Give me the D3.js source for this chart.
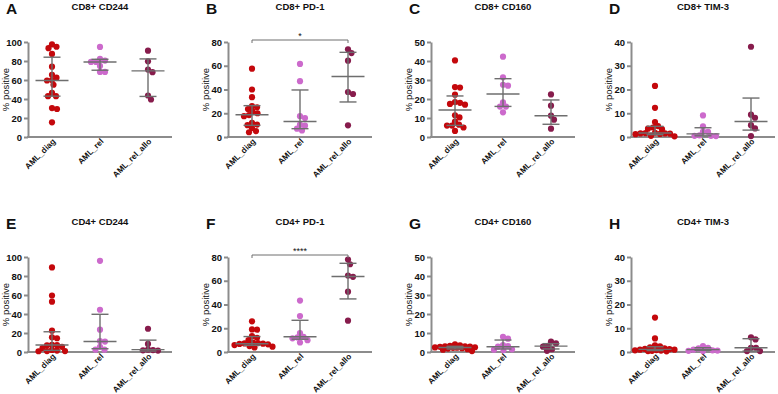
<!DOCTYPE html>
<html>
<head>
<meta charset="utf-8">
<script src="https://cdn.jsdelivr.net/npm/d3@7"></script>
<style>
  body { margin: 0; background: #fff; }
  text { font-family: "Liberation Sans", Arial, sans-serif; }
</style>
</head>
<body>
<div id="chart"></div>
<script>
// groups and panel labels
const categories = ["AML_diag", "AML_rel", "AML_rel_allo"];
const letters = ["A", "B", "C", "D", "E", "F", "G", "H"];
const titles = ["CD8+ CD244", "CD8+ PD-1", "CD8+ CD160", "CD8+ TIM-3",
                "CD4+ CD244", "CD4+ PD-1", "CD4+ CD160", "CD4+ TIM-3"];
const yMax = [100, 80, 50, 40, 100, 80, 50, 40];
const yStep = [20, 20, 10, 10, 20, 20, 10, 10];
const signif = [null, "*", null, null, null, "****", null, null];

// % positive per patient, [diag, rel, rel_allo]
const cd8_cd244 = [
  [97.5, 95, 93.5, 87.5, 74, 65.5, 62.5, 60, 59.5, 55, 46.5, 43, 43, 30.5, 29.5, 15.5],
  [94.8, 82.2, 80.4, 79, 79, 74.8, 68.5, 68.5],
  [90.9, 79.7, 71, 68.2, 43.7, 39.5]
];
const cd8_pd1 = [
  [57.5, 40, 33.5, 26, 25, 23.5, 21.5, 20, 18.5, 17.5, 12, 10.5, 10, 7.5, 5, 4],
  [61.5, 47, 17.5, 16, 10.5, 9.5, 7, 5.5],
  [73.8, 70.7, 64.3, 37.9, 36.2, 9.8]
];
const cd8_cd160 = [
  [40.3, 26.3, 26, 22.3, 18.4, 18, 17.4, 17, 11.4, 10.3, 8.1, 6.5, 6, 6, 5, 3.2],
  [42.3, 31.4, 27.5, 27, 18.2, 16, 16, 13],
  [22.4, 16.5, 11.2, 9.1, 4.4]
];
const cd8_tim3 = [
  [21.5, 12.3, 6.3, 4.6, 4, 3.5, 3.3, 1.8, 1.6, 1.5, 1.5, 1.4, 1.3, 1.2, 0.5, 0.3],
  [9.1, 4.5, 2.3, 2.2, 0.7, 0.5, 0.5, 0.4],
  [38, 9.4, 8.1, 5, 3.6, 0.4]
];
const cd4_cd244 = [
  [89, 59.5, 53, 22.5, 15.5, 14.5, 7.5, 7.2, 7, 5.5, 4, 2.2, 1.5, 1, 1, 0.8],
  [96, 44.5, 23.5, 11.5, 11, 5.5, 2.5, 2.5],
  [24.5, 8.5, 2.5, 2, 1.8, 1.5]
];
const cd4_pd1 = [
  [25.8, 19, 18.8, 13.3, 12, 10, 8, 7.5, 7.2, 7, 6.8, 6.5, 5.8, 5, 4.5, 3.8],
  [43.3, 30.3, 16, 12.8, 12.3, 11.5, 10, 8],
  [77.8, 73.9, 64.4, 63.3, 50.8, 26.4]
];
const cd4_cd160 = [
  [4, 3.5, 3.3, 3, 3, 2.8, 2.7, 2.5, 2.4, 2.3, 2.2, 2, 1.8, 1.5, 1.2, 0.5],
  [8, 7, 3.6, 3.1, 2.8, 1.4, 1.2, 1],
  [5.5, 4.5, 3.3, 2.8, 1.5, 0.6]
];
const cd4_tim3 = [
  [14.5, 5.7, 2.8, 2.4, 2, 1.5, 1.3, 1.2, 1, 1, 0.8, 0.7, 0.6, 0.5, 0.4, 0.3],
  [2.5, 1.8, 1.5, 1, 0.7, 0.6, 0.5, 0.4],
  [6.2, 5.3, 1.8, 1.8, 0.4, 0.4]
];

// [median, q1, q3] as drawn, per group
const cd8_cd244_bars = [[59.5, 43, 84], [79, 70.3, 81.8], [69.6, 42.7, 82.2]];
const cd8_pd1_bars   = [[18.8, 9.8, 26.4], [13, 7, 39.6], [51, 29.5, 71.3]];
const cd8_cd160_bars = [[14.2, 6.1, 21.6], [22.6, 16.1, 30.7], [11.2, 6.7, 19.5]];
const cd8_tim3_bars  = [[1.7, 1, 4.5], [1.3, 0.5, 3.9], [6.5, 2.9, 16.4]];
const cd4_cd244_bars = [[7.3, 1.7, 21.3], [11.1, 3.5, 39.7], [2.5, 1, 12.5]];
const cd4_pd1_bars   = [[6.9, 5.6, 13], [12.8, 10.8, 26.7], [63.6, 44.7, 74.7]];
const cd4_cd160_bars = [[2.4, 1.6, 3], [2.8, 1.6, 6.3], [3.1, 1.6, 4.4]];
const cd4_tim3_bars  = [[1.1, 0.6, 2.2], [1, 0.7, 1.8], [1.8, 0.4, 5.6]];

const panelData = [cd8_cd244, cd8_pd1, cd8_cd160, cd8_tim3, cd4_cd244, cd4_pd1, cd4_cd160, cd4_tim3];
const panelBars = [cd8_cd244_bars, cd8_pd1_bars, cd8_cd160_bars, cd8_tim3_bars,
                   cd4_cd244_bars, cd4_pd1_bars, cd4_cd160_bars, cd4_tim3_bars];

const colors = ["#c4080c", "#cc6acc", "#871c4c"];

const width = 778, height = 394;
const colX = [28, 228, 431, 631],
      rowY = [137, 352],
      plotW = 144, plotH = 95,
      r = 3.1;

const svg = d3.select("#chart")
  .append("svg")
    .attr("width", width)
    .attr("height", height);

// simple beeswarm: nudge dots sideways, dots may overlap a bit and
// the spread is capped like Prism does
function swarm(vals, y) {
  const minD = 1.6 * r, maxW = 21;
  const order = d3.range(vals.length).sort((a, b) => d3.descending(vals[a], vals[b]));
  const placed = [], out = [];
  order.forEach(i => {
    const py = y(vals[i]);
    let best = null, bestD = -1;
    for (let k = 0; k <= maxW * 4; k++) {
      const dx = (k % 2 ? 1 : -1) * Math.ceil(k / 2) * 0.5;
      const dmin = placed.length
        ? d3.min(placed, p => Math.hypot(p.x - dx, p.y - py))
        : Infinity;
      if (dmin >= minD) { best = dx; break; }
      if (dmin > bestD) { bestD = dmin; best = dx; }
    }
    placed.push({x: best, y: py});
    out[i] = {dx: best, v: vals[i]};
  });
  return out;
}

panelData.forEach((groups, p) => {
  const x0 = colX[p % 4], y0 = rowY[Math.floor(p / 4)];

  const g = svg.append("g").attr("transform", `translate(${x0},${y0 - plotH})`);

  const xScale = d3.scalePoint()
    .domain(categories)
    .range([0, plotW])
    .padding(0.5);

  const yScale = d3.scaleLinear()
    .domain([0, yMax[p]])
    .range([plotH, 0]);

  // y axis
  const yAxis = g.append("g")
    .call(d3.axisLeft(yScale)
      .tickValues(d3.range(0, yMax[p] + 0.1, yStep[p]))
      .tickSize(4)
      .tickSizeOuter(0)
      .tickPadding(2));
  yAxis.select(".domain").attr("stroke", "#8c8c8c").attr("stroke-width", 2);
  yAxis.selectAll(".tick line").attr("stroke", "#8c8c8c").attr("stroke-width", 2);
  yAxis.selectAll(".tick text")
    .attr("fill", "#111")
    .style("font-size", "9.5px")
    .style("font-weight", "bold");

  // x axis
  const xAxis = g.append("g")
    .attr("transform", `translate(0,${plotH})`)
    .call(d3.axisBottom(xScale).tickSize(0).tickSizeOuter(0).tickFormat(""));
  xAxis.select(".domain")
    .attr("d", `M-1,0H${plotW}`)
    .attr("stroke", "#8c8c8c").attr("stroke-width", 2);

  g.selectAll(".xlabel")
    .data(categories)
    .enter()
    .append("text")
      .attr("class", "xlabel")
      .attr("transform", d => `translate(${xScale(d) + 4},${plotH + 5}) rotate(-45)`)
      .attr("text-anchor", "end")
      .style("font-size", "8.2px")
      .style("font-weight", "bold")
      .attr("fill", "#111")
      .text(d => d);

  // y label
  g.append("text")
    .attr("transform", `translate(${-19},${plotH / 2}) rotate(-90)`)
    .attr("text-anchor", "middle")
    .style("font-size", "9.5px")
    .attr("fill", "#111")
    .text("% positive");

  // title and panel letter
  g.append("text")
    .attr("x", plotW / 2)
    .attr("y", -(127 - plotH))
    .attr("text-anchor", "middle")
    .style("font-size", "9.5px")
    .style("font-weight", "bold")
    .attr("fill", "#111")
    .text(titles[p]);

  g.append("text")
    .attr("x", -22)
    .attr("y", -(123 - plotH))
    .style("font-size", "15.5px")
    .style("font-weight", "bold")
    .attr("fill", "#111")
    .text(letters[p]);

  // dots
  groups.forEach((vals, c) => {
    g.selectAll(".dot" + c)
      .data(swarm(vals, yScale))
      .enter()
      .append("circle")
        .attr("cx", d => xScale(categories[c]) + d.dx)
        .attr("cy", d => yScale(d.v))
        .attr("r", r)
        .attr("fill", colors[c]);
  });

  // median + interquartile range
  panelBars[p].forEach((b, c) => {
    const cx = xScale(categories[c]);
    const bar = g.append("g")
      .attr("stroke", "#6e6e6e")
      .attr("stroke-width", 1.4);
    bar.append("line")
      .attr("x1", cx).attr("x2", cx)
      .attr("y1", yScale(b[1])).attr("y2", yScale(b[2]));
    bar.append("line")
      .attr("x1", cx - 16.5).attr("x2", cx + 16.5)
      .attr("y1", yScale(b[0])).attr("y2", yScale(b[0]));
    [b[1], b[2]].forEach(q => {
      bar.append("line")
        .attr("x1", cx - 8.5).attr("x2", cx + 8.5)
        .attr("y1", yScale(q)).attr("y2", yScale(q));
    });
  });

  // significance bracket diag vs rel_allo
  if (signif[p]) {
    const by = -2;
    const xa = xScale(categories[0]), xb = xScale(categories[2]);
    g.append("path")
      .attr("d", `M${xa},${by + 3}V${by}H${xb}V${by + 3}`)
      .attr("fill", "none")
      .attr("stroke", "#6e6e6e")
      .attr("stroke-width", 1);
    g.append("text")
      .attr("x", (xa + xb) / 2)
      .attr("y", by - 1)
      .attr("text-anchor", "middle")
      .style("font-size", "9px")
      .attr("fill", "#111")
      .text(signif[p]);
  }
});
</script>
</body>
</html>
